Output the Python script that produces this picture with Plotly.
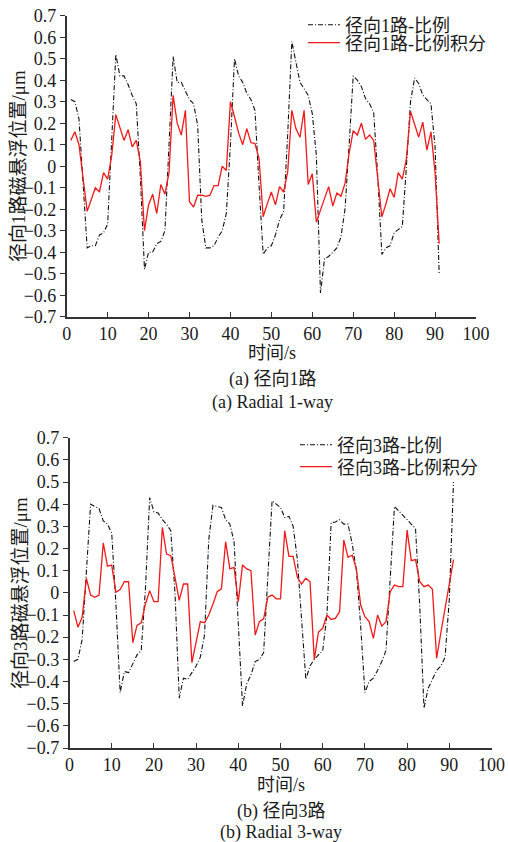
import plotly.graph_objects as go

# ---------------- data ----------------
t = list(range(1, 92))

r1_p = [0.31, 0.30, 0.22, -0.10, -0.38, -0.37, -0.37, -0.32, -0.31, -0.27,
        0.10, 0.52, 0.42, 0.42, 0.38, 0.33, 0.29, -0.05, -0.48, -0.40,
        -0.40, -0.36, -0.35, -0.30, 0.10, 0.51, 0.39, 0.39, 0.35, 0.31,
        0.29, 0.19, -0.25, -0.38, -0.38, -0.37, -0.33, -0.30, -0.22, 0.10,
        0.50, 0.42, 0.39, 0.34, 0.31, 0.26, -0.09, -0.41, -0.38, -0.37,
        -0.32, -0.25, -0.21, 0.15, 0.58, 0.48, 0.39, 0.36, 0.33, 0.245,
        0.05, -0.59, -0.43, -0.42, -0.40, -0.38, -0.33, -0.20, 0.10, 0.42,
        0.40, 0.37, 0.315, 0.29, 0.25, -0.05, -0.41, -0.38, -0.37, -0.31,
        -0.295, -0.28, 0.0, 0.30, 0.41, 0.385, 0.33, 0.31, 0.29, 0.09,
        -0.50]

r1_pi = [0.12, 0.16, 0.10, -0.05, -0.21, -0.155, -0.10, -0.12, -0.03, -0.06,
         0.05, 0.24, 0.18, 0.12, 0.17, 0.09, 0.12, 0.02, -0.30, -0.18,
         -0.13, -0.22, -0.085, -0.13, -0.03, 0.33, 0.20, 0.145, 0.26, -0.165,
         -0.19, -0.135, -0.135, -0.14, -0.135, -0.09, -0.09, 0.0, -0.02, 0.30,
         0.23, 0.155, 0.10, 0.175, 0.11, 0.105, 0.035, -0.235, -0.175, -0.12,
         -0.18, -0.095, -0.12, -0.025, 0.26, 0.175, 0.135, 0.26, -0.085, -0.035,
         -0.26, -0.205, -0.155, -0.095, -0.185, -0.125, -0.14, -0.08, 0.06, 0.165,
         0.145, 0.20, 0.125, 0.145, 0.12, -0.05, -0.235, -0.175, -0.105, -0.145,
         -0.03, -0.06, 0.035, 0.255, 0.19, 0.135, 0.205, 0.075, 0.16, -0.03,
         -0.36]

r3_p = [-0.31, -0.30, -0.21, 0.10, 0.40, 0.39, 0.38, 0.325, 0.31, 0.27,
        -0.05, -0.45, -0.355, -0.36, -0.32, -0.28, -0.26, 0.02, 0.43, 0.365,
        0.36, 0.33, 0.31, 0.28, 0.0, -0.475, -0.385, -0.39, -0.36, -0.33,
        -0.29, -0.19, 0.24, 0.395, 0.39, 0.385, 0.33, 0.31, 0.23, -0.15,
        -0.51, -0.41, -0.37, -0.31, -0.30, -0.27, 0.05, 0.415, 0.40, 0.385,
        0.34, 0.345, 0.30, 0.15, -0.12, -0.39, -0.33, -0.30, -0.28, -0.26,
        -0.10, 0.317, 0.32, 0.33, 0.31, 0.31, 0.22, 0.10, -0.15, -0.45,
        -0.40, -0.385, -0.35, -0.31, -0.26, 0.05, 0.39, 0.37, 0.35, 0.33,
        0.31, 0.29, -0.06, -0.52, -0.43, -0.39, -0.35, -0.33, -0.29, -0.03,
        0.50]

r3_pi = [-0.08, -0.155, -0.11, 0.065, -0.01, -0.02, -0.01, 0.225, 0.12, 0.125,
         0.003, 0.015, 0.05, 0.05, -0.225, -0.147, -0.135, -0.05, 0.01, -0.04,
         -0.04, 0.295, 0.175, 0.168, 0.07, -0.034, 0.04, 0.04, -0.315, -0.22,
         -0.13, -0.135, -0.10, -0.05, 0.005, 0.018, 0.23, 0.108, 0.115, -0.04,
         0.126, 0.108, 0.10, -0.19, -0.13, -0.117, -0.02, -0.01, -0.027, -0.027,
         0.28, 0.165, 0.165, 0.07, 0.04, 0.066, 0.05, -0.30, -0.177, -0.16,
         -0.10, -0.12, -0.115, -0.085, 0.238, 0.16, 0.17, 0.106, -0.055, -0.108,
         -0.13, -0.205, -0.10, -0.15, -0.13, 0.005, 0.035, 0.028, 0.028, 0.283,
         0.145, 0.15, 0.05, 0.028, 0.035, 0.016, -0.295, -0.18, -0.07, 0.04,
         0.15]

names_top = ["径向1路-比例", "径向1路-比例积分"]
names_bot = ["径向3路-比例", "径向3路-比例积分"]
ytitle_top = "径向1路磁悬浮位置/μm"
ytitle_bot = "径向3路磁悬浮位置/μm"
xtitle = "时间/s"
cap_top = ["(a) 径向1路", "(a) Radial 1-way"]
cap_bot = ["(b) 径向3路", "(b) Radial 3-way"]

# ---------------- figure ----------------
W, H = 508, 842
FONT = "Liberation Serif, 'Times New Roman', 'Noto Sans CJK SC', serif"
TXT = "#1a1a1a"
BLACK = "#111111"
RED = "#f01818"
DASH = "5px,2px,1px,2px"

fig = go.Figure()

fig.add_trace(go.Scatter(x=t, y=r1_p, mode="lines", name=names_top[0],
                         line=dict(color=BLACK, width=1.1, dash=DASH),
                         xaxis="x", yaxis="y", legend="legend"))
fig.add_trace(go.Scatter(x=t, y=r1_pi, mode="lines", name=names_top[1],
                         line=dict(color=RED, width=1.3),
                         xaxis="x", yaxis="y", legend="legend2"))
fig.add_trace(go.Scatter(x=t, y=r3_p, mode="lines", name=names_bot[0],
                         line=dict(color=BLACK, width=1.1, dash=DASH),
                         xaxis="x2", yaxis="y2", legend="legend3"))
fig.add_trace(go.Scatter(x=t, y=r3_pi, mode="lines", name=names_bot[1],
                         line=dict(color=RED, width=1.3),
                         xaxis="x2", yaxis="y2", legend="legend4"))


def px_x(p):
    return p / W


def px_y(p):
    return 1 - p / H


axis_common = dict(showline=True, linecolor="#333333", linewidth=1.5,
                   showgrid=False, zeroline=False, ticklen=5,
                   tickcolor="#333333", tickwidth=1.2,
                   ticklabeloverflow="allow",
                   tickfont=dict(family=FONT, size=18, color=TXT))

fig.update_layout(
    width=W, height=H, autosize=False, showlegend=True,
    margin=dict(l=0, r=0, t=0, b=0, autoexpand=False),
    paper_bgcolor="white", plot_bgcolor="white",
    font=dict(family=FONT, color=TXT),
    xaxis=dict(domain=[px_x(66.7), px_x(476)], range=[0, 100], dtick=10,
               ticks="inside", anchor="y", **axis_common),
    yaxis=dict(domain=[px_y(316.7), px_y(15.7)], range=[-0.7, 0.7], dtick=0.1,
               ticks="outside", anchor="x", **axis_common),
    xaxis2=dict(domain=[px_x(69.5), px_x(491.5)], range=[0, 100], dtick=10,
                ticks="inside", anchor="y2", **axis_common),
    yaxis2=dict(domain=[px_y(748), px_y(437.7)], range=[-0.7, 0.7], dtick=0.1,
                ticks="outside", anchor="x2", **axis_common),
)

leg_common = dict(bgcolor="rgba(0,0,0,0)", borderwidth=0, itemwidth=32,
                  font=dict(family=FONT, size=18, color=TXT),
                  xanchor="left", yanchor="middle")
fig.update_layout(
    legend=dict(x=px_x(303), y=px_y(25), **leg_common),
    legend2=dict(x=px_x(303), y=px_y(43), **leg_common),
    legend3=dict(x=px_x(295), y=px_y(445), **leg_common),
    legend4=dict(x=px_x(295), y=px_y(467), **leg_common),
)

ann = []


def txt(x, y, s, size=18, angle=0):
    ann.append(dict(x=px_x(x), y=px_y(y), xref="paper", yref="paper", text=s,
                    showarrow=False, textangle=angle,
                    font=dict(family=FONT, size=size, color=TXT),
                    xanchor="center", yanchor="middle"))


txt(18, 166, ytitle_top, 19, -90)
txt(272, 353, xtitle, 18)
txt(272, 380, cap_top[0], 18)
txt(272, 402, cap_top[1], 18)

txt(20, 593, ytitle_bot, 19, -90)
txt(281, 785, xtitle, 18)
txt(281, 811, cap_bot[0], 18)
txt(281, 832, cap_bot[1], 18)

fig.update_layout(annotations=ann)

fig.write_html(
    "out.html",
    config={"displayModeBar": False},
    post_script="document.body.style.margin='0';"
                "document.body.style.overflow='hidden';",
)
